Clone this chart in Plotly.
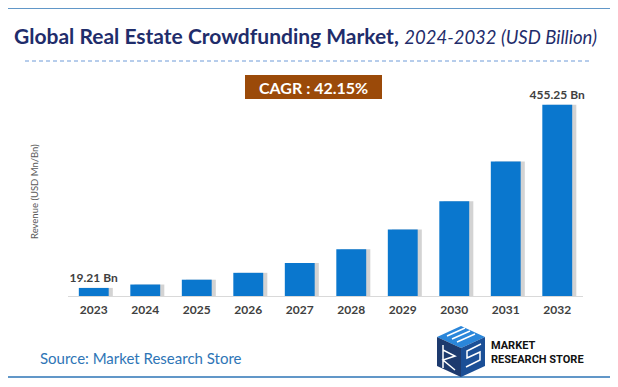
import plotly.graph_objects as go

years = ["2023", "2024", "2025", "2026", "2027", "2028", "2029", "2030", "2031", "2032"]
revenue = [19.21, 27.3, 38.8, 55.2, 78.4, 111.5, 158.5, 225.3, 320.3, 455.25]
label_years = ["2023", "2032"]
cagr_text = "CAGR : 42.15%"
title_main = "Global Real Estate Crowdfunding Market,"
title_sub = "2024-2032 (USD Billion)"
y_title = "Revenue (USD Mn/Bn)"
source_text = "Source: Market Research Store"

# the page body has an 8px margin, so the figure is drawn 8px in from the window edge
OFF = 8
W, H = 618 - OFF, 387 - OFF
L, R, T, B = 68, 583, 86, 296  # plot area in window pixels


def px(x):
    return (x - L) / (R - L)


def py(y):
    return (B - y) / (B - T)


FONT = "Lato"
bar_labels = [f"{v:.2f} Bn" if yr in label_years else "" for yr, v in zip(years, revenue)]

fig = go.Figure()
# soft shadow behind bars
fig.add_trace(go.Bar(
    x=years, y=revenue, width=0.58, offset=-0.21,
    marker=dict(color="rgba(110,110,110,0.30)", line=dict(width=0)),
    hoverinfo="skip", showlegend=False,
))
fig.add_trace(go.Bar(
    x=years, y=revenue, width=0.58,
    marker=dict(color="#0A77CE", line=dict(width=0)),
    text=bar_labels, textposition="outside", cliponaxis=False, constraintext="none",
    textfont=dict(family=FONT, size=12, color="#404040", weight="bold"),
    showlegend=False,
))

fig.update_layout(
    width=W, height=H,
    margin=dict(l=L - OFF, r=W - (R - OFF), t=T - OFF, b=H - (B - OFF), pad=0),
    paper_bgcolor="white", plot_bgcolor="white",
    barmode="overlay",
    font=dict(family=FONT),
    xaxis=dict(
        type="category", showgrid=False, zeroline=False,
        showline=True, linecolor="#D9D9D9", linewidth=1,
        ticks="", tickfont=dict(family=FONT, size=12, color="#404040", weight="bold"),
        ticklabelstandoff=3,
    ),
    yaxis=dict(range=[0, 500], visible=False),
    shapes=[
        dict(type="rect", xref="paper", yref="paper",
             x0=px(6.5), x1=px(611), y0=py(8), y1=py(377),
             line=dict(color="#2E75B6", width=1.5), fillcolor="rgba(0,0,0,0)"),
        dict(type="line", xref="paper", yref="paper",
             x0=px(25), x1=px(589), y0=py(61), y1=py(61),
             line=dict(color="#6F9BD8", width=1, dash="4px,3px")),
        dict(type="rect", xref="paper", yref="paper",
             x0=px(245), x1=px(382), y0=py(75), y1=py(99),
             line=dict(width=0), fillcolor="#9B4A09"),
        # logo cube
        dict(type="path", xref="paper", yref="paper",
             path=f"M {px(437)},{py(337)} L {px(461)},{py(326)} L {px(485)},{py(337)} L {px(461)},{py(348)} Z",
             fillcolor="#2A86DA", line=dict(width=0)),
        dict(type="path", xref="paper", yref="paper",
             path=f"M {px(437)},{py(337)} L {px(461)},{py(348)} L {px(461)},{py(377)} L {px(437)},{py(366)} Z",
             fillcolor="#1D3A6E", line=dict(width=0)),
        dict(type="path", xref="paper", yref="paper",
             path=f"M {px(461)},{py(348)} L {px(485)},{py(337)} L {px(485)},{py(366)} L {px(461)},{py(377)} Z",
             fillcolor="#1B4F96", line=dict(width=0)),
        dict(type="path", xref="paper", yref="paper",
             path=f"M {px(447)},{py(336)} L {px(465)},{py(328)} M {px(452)},{py(339)} L {px(470)},{py(331)} M {px(457)},{py(342)} L {px(475)},{py(334)}",
             line=dict(color="white", width=1.5)),
        dict(type="path", xref="paper", yref="paper",
             path=f"M {px(443)},{py(345)} L {px(443)},{py(368)} M {px(443)},{py(350)} L {px(455)},{py(356)} L {px(443)},{py(360)} L {px(455)},{py(370)}",
             line=dict(color="white", width=1.5)),
        dict(type="path", xref="paper", yref="paper",
             path=f"M {px(481)},{py(344)} L {px(467)},{py(351)} L {px(467)},{py(358)} L {px(480)},{py(352)} L {px(480)},{py(360)} L {px(466)},{py(367)}",
             line=dict(color="white", width=1.5)),
    ],
    annotations=[
        dict(xref="paper", yref="paper", x=px(12), y=py(36), xanchor="left", yanchor="middle",
             text=f"<b>{title_main}</b> <i><span style='font-size:18.5px'>{title_sub}</span></i>",
             showarrow=False, font=dict(family=FONT, size=21, color="#1F2D6B")),
        dict(xref="paper", yref="paper", x=px(313.5), y=py(87), xanchor="center", yanchor="middle",
             text=f"<b>{cagr_text}</b>", showarrow=False,
             font=dict(family=FONT, size=16, color="white")),
        dict(xref="paper", yref="paper", x=px(34), y=py(192), xanchor="center", yanchor="middle",
             text=y_title, textangle=-90, showarrow=False,
             font=dict(family=FONT, size=9.5, color="#595959")),
        dict(xref="paper", yref="paper", x=px(38), y=py(358), xanchor="left", yanchor="middle",
             text=source_text, showarrow=False,
             font=dict(family=FONT, size=15, color="#2E75B6")),
        dict(xref="paper", yref="paper", x=px(489), y=py(352), xanchor="left", yanchor="middle",
             text="<b>MARKET<br>RESEARCH STORE</b>", align="left", showarrow=False,
             font=dict(family="Roboto", size=11, color="#111111")),
    ],
)

fig.write_html("out.html")
